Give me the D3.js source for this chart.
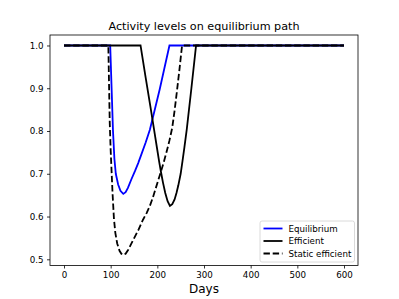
<!DOCTYPE html>
<meta charset="utf-8">
<style>
body{
  margin: 0px;
  background: white;
  font-family: "DejaVu Sans", sans-serif;
}
.axis text{
  font-size: 8.7px;
  fill: #000;
}
.axis path, .axis line{
  stroke: #000;
  stroke-width: 0.8px;
}
</style>
<body>
<div id='chart'></div>
<script src="https://cdn.jsdelivr.net/npm/d3@7"></script>
<script>

// [day, activity level]
var equilibrium = [[0,1],[99,1],[102,0.9],[105,0.8],[108,0.735],[111,0.7],[116,0.675],[121,0.66],[127,0.653],
  [132,0.657],[137,0.667],[144,0.686],[152,0.706],[159,0.725],[166,0.746],[175,0.773],[184,0.803],[195,0.852],
  [205,0.897],[215,0.946],[226,1],[600,1]]

var efficient = [[0,1],[164,1],[175,0.925],[185,0.858],[193,0.803],[199,0.762],[204,0.728],[208,0.703],
  [212,0.68],[217,0.655],[222,0.636],[227,0.625],[232,0.629],[237,0.64],[241,0.655],[245,0.673],[250,0.7],
  [254,0.73],[258,0.762],[263,0.803],[273,0.9],[283,1],[600,1]]

var staticEfficient = [[0,1],[95,1],[98,0.82],[100,0.755],[102,0.705],[104,0.655],[107,0.595],[110,0.562],
  [114,0.537],[119,0.52],[123,0.513],[127,0.51],[132,0.513],[138,0.523],[144,0.536],[152,0.553],[160,0.57],
  [169,0.592],[177,0.608],[184,0.625],[190,0.643],[196,0.664],[202,0.685],[208,0.706],[214,0.728],
  [220,0.752],[226,0.778],[232,0.808],[237,0.848],[242,0.893],[247,0.94],[253,1],[600,1]]

var xTicks = [0, 100, 200, 300, 400, 500, 600]
var yTicks = [0.5, 0.6, 0.7, 0.8, 0.9, 1.0]

var series = [
  {name: 'Equilibrium', values: equilibrium, color: 'blue', dash: null},
  {name: 'Efficient', values: efficient, color: 'black', dash: null},
  {name: 'Static efficient', values: staticEfficient, color: 'black', dash: '6.4,2.8'}
]

var width = 399,
    height = 299,
    margin = {top: 35, right: 41, bottom: 33.5, left: 50}

var svg = d3.select('#chart')
  .append('svg')
    .attr('width', width)
    .attr('height', height)

var x = d3.scaleLinear()
    .domain([-30, 630])
    .range([margin.left, width - margin.right])

var y = d3.scaleLinear()
    .domain([0.4855, 1.0245])
    .range([height - margin.bottom, margin.top])

var line = d3.line()
    .x(function(d){ return x(d[0]) })
    .y(function(d){ return y(d[1]) })

svg.selectAll('path.series')
    .data(series)
  .enter().append('path')
    .attr('class', 'series')
    .attr('d', function(d){ return line(d.values) })
    .style('fill', 'none')
    .style('stroke', function(d){ return d.color })
    .style('stroke-width', 1.8)
    .style('stroke-dasharray', function(d){ return d.dash })

// frame
svg.append('rect')
    .attr('x', margin.left)
    .attr('y', margin.top)
    .attr('width', width - margin.left - margin.right)
    .attr('height', height - margin.top - margin.bottom)
    .style('fill', 'none')
    .style('stroke', '#000')
    .style('stroke-width', 0.8)

svg.append('g')
    .attr('class', 'axis')
    .attr('transform', 'translate(0,' + (height - margin.bottom) + ')')
    .call(d3.axisBottom(x).tickValues(xTicks).tickSizeOuter(0).tickSize(3).tickPadding(3.5))
    .call(function(g){ g.select('.domain').remove() })

svg.append('g')
    .attr('class', 'axis')
    .attr('transform', 'translate(' + margin.left + ',0)')
    .call(d3.axisLeft(y).tickValues(yTicks).tickFormat(d3.format('.1f')).tickSizeOuter(0).tickSize(3).tickPadding(3.5))
    .call(function(g){ g.select('.domain').remove() })

svg.selectAll('.axis text').style('font-family', '"DejaVu Sans", sans-serif')

svg.append('text')
    .attr('x', (margin.left + width - margin.right) / 2)
    .attr('y', 30)
    .attr('text-anchor', 'middle')
    .style('font-size', '11.2px')
    .text('Activity levels on equilibrium path')

svg.append('text')
    .attr('x', (margin.left + width - margin.right) / 2)
    .attr('y', 292.5)
    .attr('text-anchor', 'middle')
    .style('font-size', '12px')
    .text('Days')

// legend
var legend = svg.append('g')
    .attr('transform', 'translate(260,221)')

legend.append('rect')
    .attr('width', 94.5)
    .attr('height', 41)
    .attr('rx', 2)
    .style('fill', 'white')
    .style('fill-opacity', 0.8)
    .style('stroke', '#d0d0d0')
    .style('stroke-width', 0.8)

var item = legend.selectAll('g.item')
    .data(series)
  .enter().append('g')
    .attr('class', 'item')
    .attr('transform', function(d, i){ return 'translate(0,' + (7.5 + i * 12.5) + ')' })

item.append('line')
    .attr('x1', 3.5).attr('x2', 22.5)
    .style('stroke', function(d){ return d.color })
    .style('stroke-width', 1.8)
    .style('stroke-dasharray', function(d){ return d.dash })

item.append('text')
    .attr('x', 28.5)
    .attr('dy', '0.35em')
    .style('font-size', '8.7px')
    .text(function(d){ return d.name })

</script>
